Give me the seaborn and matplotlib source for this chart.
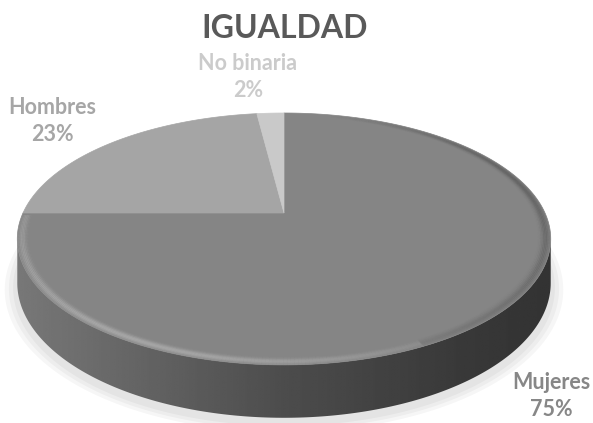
import numpy as np
import matplotlib
matplotlib.use("Agg")
import matplotlib.pyplot as plt
from matplotlib.patches import Polygon
from matplotlib.collections import LineCollection
import seaborn as sns

# datos
categorias = ["Mujeres", "Hombres", "No binaria"]
valores = [75, 23, 2]
titulo = "IGUALDAD"

# estilo
colores_cara = ["#858585", "#a5a5a5", "#c9c9c9"]
colores_texto = ["#878787", "#a6a6a6", "#cbcbcb"]
pos_etiquetas = [(551, 396), (52, 121), (248, 77)]

sns.set_theme(style="white")
plt.rcParams["font.family"] = ["Lato", "DejaVu Sans"]

fig = plt.figure(figsize=(5.93, 4.23), dpi=100)
ax = fig.add_axes([0, 0, 1, 1])

# la tarta normal de matplotlib da los angulos de cada sector
wedges, _ = ax.pie(valores, startangle=90, counterclock=False, radius=1)
angulos = [(w.theta1, w.theta2) for w in wedges]
for w in wedges:
    w.remove()
ax.set_aspect("auto")
ax.axis("off")

# perspectiva 3D (pixeles)
CX, CY, RX, RY, K, PROF = 284, 213, 261, 120.6, 0.206, 42


def proyectar(x, y, caida=0.0):
    d = 1 + K * y
    return CX + RX * x / d, CY - RY * y / d + caida / d


def arco(t1, t2, r=1.0, n=300):
    t = np.radians(np.linspace(t1, t2, n))
    return r * np.cos(t), r * np.sin(t)


# sombra suave
for r in [1.045, 1.03, 1.015]:
    xs, ys = arco(0, 360, r)
    px, py = proyectar(xs, ys, PROF + 4)
    ax.add_patch(Polygon(np.column_stack([px, py]), closed=True,
                         facecolor="black", alpha=0.035, lw=0, zorder=1))

# lateral visible
a0 = np.degrees(np.arcsin(K))
frente = (-180 + a0, -a0)
for (t1, t2) in angulos:
    for s in (-360, 0, 360):
        lo, hi = max(t1 + s, frente[0]), min(t2 + s, frente[1])
        if lo >= hi:
            continue
        xs, ys = arco(lo, hi)
        tx, ty = proyectar(xs, ys)
        bx, by = proyectar(xs, ys, PROF)
        pts = np.column_stack([np.r_[tx, bx[::-1]], np.r_[ty, by[::-1]]])
        lado = Polygon(pts, closed=True, facecolor="none", lw=0, zorder=2)
        ax.add_patch(lado)
        gx = np.linspace(0, 1, 256)
        gris = np.interp(gx, [0, 0.5, 0.85, 1], [0.47, 0.30, 0.22, 0.2])
        img = np.tile(gris, (2, 1))
        im = ax.imshow(img, cmap="gray", vmin=0, vmax=1, aspect="auto",
                       extent=[pts[:, 0].min(), pts[:, 0].max(),
                               pts[:, 1].max(), pts[:, 1].min()],
                       zorder=2, interpolation="bilinear")
        im.set_clip_path(lado)
ax.set_xlim(0, 593)
ax.set_ylim(423, 0)

# cara superior
for (t1, t2), c in zip(angulos, colores_cara):
    xs, ys = arco(t1, t2)
    px, py = proyectar(np.r_[0, xs], np.r_[0, ys])
    ax.add_patch(Polygon(np.column_stack([px, py]), closed=True,
                         facecolor=c, edgecolor=c, lw=0.5, zorder=3))

# bisel suave del borde
th = np.linspace(-179, 80, 400)
thm = 0.5 * (th[:-1] + th[1:])
luz = np.clip(np.cos(np.radians(thm + 130)), 0, 1) ** 1.5
sombra = np.clip(np.cos(np.radians(thm + 5)), 0, 1) ** 2
for r in np.linspace(0.94, 0.998, 12):
    peso = np.exp(-((r - 0.982) / 0.014) ** 2)
    xs, ys = arco(-179, 80, r, 400)
    px, py = proyectar(xs, ys)
    segs = np.stack([np.column_stack([px[:-1], py[:-1]]),
                     np.column_stack([px[1:], py[1:]])], axis=1)
    cols = [(1, 1, 1, 0.16 * peso * l) if l > s else (0, 0, 0, 0.12 * peso * s)
            for l, s in zip(luz, sombra)]
    ax.add_collection(LineCollection(segs, colors=cols, lw=1.6, zorder=4))

# textos
ax.text(285, 28, titulo, ha="center", va="center", fontsize=23,
        fontweight="bold", color="#595959")
total = sum(valores)
for cat, v, c, (x, y) in zip(categorias, valores, colores_texto, pos_etiquetas):
    ax.text(x, y, f"{cat}\n{v / total * 100:.0f}%", ha="center", va="center",
            fontsize=15.5, fontweight="bold", color=c, linespacing=1.4)

fig.savefig("out.png", dpi=100, facecolor="white")
